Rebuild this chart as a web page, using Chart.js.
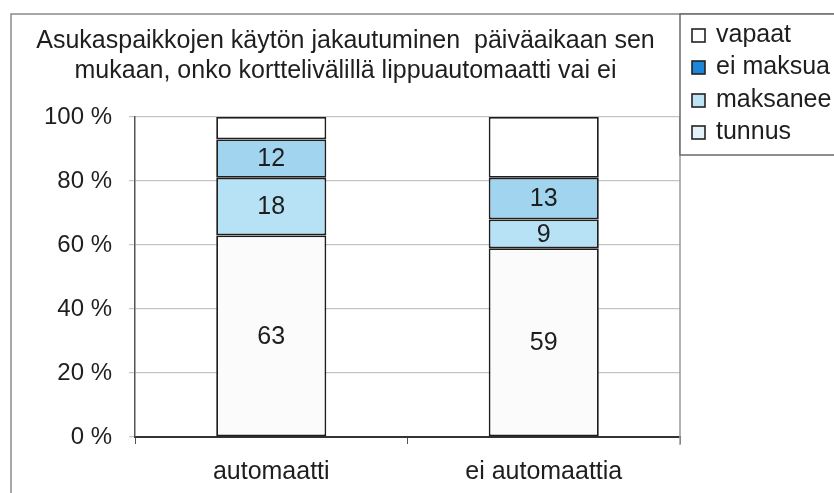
<!DOCTYPE html>
<html>
<head>
<meta charset="utf-8">
<script src="https://cdn.jsdelivr.net/npm/chart.js@4/dist/chart.umd.min.js"></script>
<style>
  html, body { margin: 0; padding: 0; background: #ffffff; }
  #wrap { position: relative; width: 834px; height: 493px; }
  canvas { display: block; }
</style>
</head>
<body>
<div id="wrap"><canvas id="c" width="834" height="493"></canvas></div>
<script>
// ---- data ----
const categories = ['automaatti', 'ei automaattia'];
const tunnus = [63, 59];
const maksanee = [18, 9];
const eiMaksua = [12, 13];
const vapaat = [7, 19];
const yTicks = [0, 20, 40, 60, 80, 100];
const titleLines = ['Asukaspaikkojen käytön jakautuminen  päiväaikaan sen',
                    'mukaan, onko korttelivälillä lippuautomaatti vai ei'];

const FONT = "'Liberation Sans', Arial, Helvetica, sans-serif";
const TXT = '#1e1e1e';

// plot right border + outer frame
const framePlugin = {
  id: 'frame',
  beforeDraw(chart) {
    const ctx = chart.ctx;
    ctx.save();
    ctx.strokeStyle = '#8a8a8a';
    ctx.lineWidth = 1.5;
    ctx.beginPath();
    ctx.moveTo(11, 493);
    ctx.lineTo(11, 14);
    ctx.lineTo(834, 14);
    ctx.stroke();
    ctx.restore();
  },
  afterDraw(chart) {
    const ctx = chart.ctx, a = chart.chartArea;
    ctx.save();
    ctx.strokeStyle = '#9a9a9a';
    ctx.lineWidth = 1.5;
    ctx.beginPath();
    ctx.moveTo(a.right, a.top);
    ctx.lineTo(a.right, a.bottom + 8);
    ctx.stroke();
    ctx.restore();
  }
};

// value labels in segments
const valueLabels = {
  id: 'valueLabels',
  afterDatasetsDraw(chart) {
    const ctx = chart.ctx;
    ctx.save();
    ctx.font = '25px ' + FONT;
    ctx.fillStyle = TXT;
    ctx.textAlign = 'center';
    ctx.textBaseline = 'middle';
    chart.data.datasets.forEach((ds, i) => {
      if (!ds.showValue) return;
      chart.getDatasetMeta(i).data.forEach((el, j) => {
        const y = (el.y + el.base) / 2 + 1;
        ctx.fillText(String(ds.data[j]), el.x, y);
      });
    });
    ctx.restore();
  }
};

// legend box at top right
const legendBox = {
  id: 'legendBox',
  afterDraw(chart) {
    const ctx = chart.ctx;
    ctx.save();
    ctx.fillStyle = '#ffffff';
    ctx.fillRect(680, 14, 160, 141);
    ctx.strokeStyle = '#6a6a6a';
    ctx.lineWidth = 1.5;
    ctx.beginPath();
    ctx.moveTo(840, 155);
    ctx.lineTo(680, 155);
    ctx.lineTo(680, 14);
    ctx.lineTo(840, 14);
    ctx.stroke();
    const ds = chart.data.datasets.slice().reverse();
    const ys = [35, 67, 100, 132];
    ctx.font = '25px ' + FONT;
    ctx.textBaseline = 'middle';
    ctx.textAlign = 'left';
    ds.forEach((d, k) => {
      const y = ys[k];
      ctx.fillStyle = d.legendColor;
      ctx.fillRect(692, y - 6, 13, 13);
      ctx.strokeStyle = '#222';
      ctx.lineWidth = 1.6;
      ctx.strokeRect(692, y - 6, 13, 13);
      ctx.fillStyle = TXT;
      ctx.fillText(d.label, 716, y);
    });
    ctx.restore();
  }
};

const common = { borderColor: '#1e1e1e', borderWidth: 1.8, borderSkipped: false,
                 barPercentage: 0.404, categoryPercentage: 1.0 };

new Chart(document.getElementById('c'), {
  type: 'bar',
  data: {
    labels: categories,
    datasets: [
      Object.assign({ label: 'tunnus', data: tunnus, backgroundColor: '#fbfbfb', legendColor: '#e3f1f8', showValue: true }, common),
      Object.assign({ label: 'maksanee', data: maksanee, backgroundColor: '#b7e1f4', legendColor: '#bde3f4', showValue: true }, common),
      Object.assign({ label: 'ei maksua', data: eiMaksua, backgroundColor: '#a1d5ef', legendColor: '#1d86d6', showValue: true }, common),
      Object.assign({ label: 'vapaat', data: vapaat, backgroundColor: '#ffffff', legendColor: '#ffffff', showValue: false }, common)
    ]
  },
  options: {
    responsive: false,
    animation: false,
    devicePixelRatio: 1,
    layout: { padding: { left: 11, right: 154, top: 14, bottom: 0 } },
    plugins: {
      legend: { display: false },
      tooltip: { enabled: false },
      title: {
        display: true,
        text: titleLines,
        color: TXT,
        font: { family: FONT, size: 25, weight: 'normal', lineHeight: 1.2 },
        padding: { top: 12, bottom: 31 }
      }
    },
    scales: {
      x: {
        stacked: true,
        grid: { display: true, drawOnChartArea: false, drawTicks: true, tickLength: 7, color: '#555', offset: true },
        border: { display: true, color: '#333', width: 2 },
        ticks: { color: TXT, font: { family: FONT, size: 25 }, padding: 13, maxRotation: 0 },
        afterFit(s) { s.height = 56; }
      },
      y: {
        stacked: true,
        min: 0, max: 100,
        afterBuildTicks(s) { s.ticks = yTicks.map(v => ({ value: v })); },
        grid: { color: '#c4c4c4', lineWidth: 1.2, drawTicks: true, tickLength: 6 },
        border: { display: true, color: '#555', width: 1.5 },
        ticks: { color: TXT, font: { family: FONT, size: 24 }, padding: 17,
                 callback: v => v + ' %' },
        afterFit(s) { s.width = 124; }
      }
    }
  },
  plugins: [framePlugin, valueLabels, legendBox]
});
</script>
</body>
</html>
